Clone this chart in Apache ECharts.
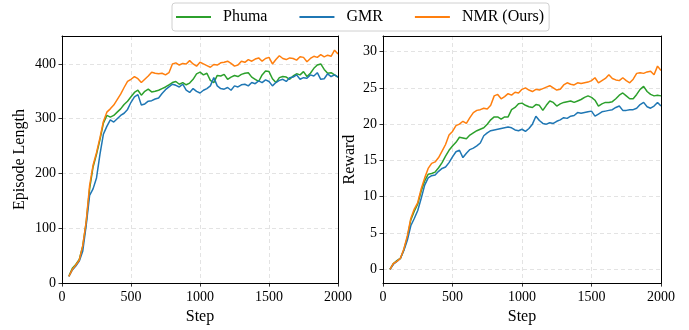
<!DOCTYPE html>
<html>
<head>
<meta charset="utf-8">
<script src="https://cdn.jsdelivr.net/npm/echarts@6/dist/echarts.min.js"></script>
<style>
html,body{margin:0;padding:0;background:#fff;}
#chart{width:689px;height:330px;}
</style>
</head>
<body>
<div id="chart"></div>
<script>
// ---- data ----
const steps = [50,75,100,125,150,175,200,225,250,275,300,325,350,375,400,425,450,475,500,525,550,575,600,625,650,675,700,725,750,775,800,825,850,875,900,925,950,975,1000,1025,1050,1075,1100,1125,1150,1175,1200,1225,1250,1275,1300,1325,1350,1375,1400,1425,1450,1475,1500,1525,1550,1575,1600,1625,1650,1675,1700,1725,1750,1775,1800,1825,1850,1875,1900,1925,1950,1975,2000];

const seriesNames = ['Phuma', 'GMR', 'NMR (Ours)'];

// Episode Length
const lenPhuma = [13,27,34,43,67,110,172,212,235,262,292,306,303,306,312,318,326,332,340,348,352,343,350,354,349,350,352,355,358,362,366,368,363,366,362,365,372,382,385,380,383,370,366,379,378,381,372,376,379,377,381,383,384,376,372,368,380,387,386,373,366,375,377,376,372,378,382,380,386,377,383,392,398,400,390,383,384,380,376];
const lenGMR = [12,24,31,40,58,105,160,172,192,235,272,286,298,294,300,306,310,317,330,340,344,325,327,332,333,336,338,346,353,358,363,361,358,363,352,348,355,350,347,352,355,360,375,360,355,354,357,352,360,358,362,363,360,366,364,369,366,371,368,360,366,370,372,368,375,376,380,372,375,374,380,378,384,372,373,382,377,380,376];
const lenNMR = [12,25,33,42,68,112,178,215,238,265,295,312,318,325,335,345,357,368,372,377,373,366,372,378,385,383,382,383,380,384,400,402,398,401,400,406,400,396,403,400,397,394,399,398,402,403,405,401,396,398,405,403,408,405,409,411,405,410,412,400,408,415,410,408,411,410,407,413,412,404,410,414,412,417,413,416,414,425,418];

// Reward
const rewPhuma = [0.0,0.8,1.2,1.5,2.7,4.4,6.8,8.0,9.0,10.8,12.2,13.1,13.2,13.4,14.0,14.7,15.6,16.4,17.0,17.5,18.2,18.1,18.0,18.5,18.8,19.1,19.3,19.5,20.0,20.6,21.0,21.0,20.7,21.0,21.0,22.0,22.3,22.8,22.9,22.6,22.4,22.3,22.7,22.6,21.9,22.6,23.2,23.0,22.5,22.8,23.0,23.1,23.2,23.0,23.2,23.4,23.7,23.9,23.7,23.3,22.5,22.8,23.0,23.0,23.1,23.5,24.0,24.3,23.9,23.5,23.5,24.1,24.8,25.2,24.5,24.1,23.9,24.0,23.9];
const rewGMR = [0.0,0.7,1.1,1.5,2.6,4.0,6.0,7.0,8.1,9.8,11.6,12.6,12.9,13.0,13.5,13.9,14.1,14.7,15.5,16.2,16.4,15.4,16.0,16.5,16.7,17.0,17.4,18.4,18.8,19.1,19.2,19.3,19.4,19.5,19.6,19.5,19.2,19.1,19.3,19.0,19.4,20.0,21.1,20.5,20.1,20.0,20.2,20.1,20.4,20.6,20.9,20.8,21.1,21.2,21.6,21.5,21.6,21.7,21.8,21.1,21.4,21.7,21.8,21.9,22.0,22.3,22.5,21.9,21.9,22.0,22.0,22.2,22.7,23.0,22.4,22.2,22.5,23.0,22.5];
const rewNMR = [0.0,0.8,1.1,1.5,2.8,4.6,7.0,8.3,9.2,11.1,12.6,13.9,14.6,14.8,15.4,16.3,17.2,18.5,19.0,19.8,20.0,20.4,20.1,20.9,21.6,21.9,22.0,22.2,22.1,22.6,23.9,24.1,23.5,23.8,24.2,24.0,24.4,24.3,24.8,25.0,24.7,24.5,24.8,24.7,24.9,25.1,25.3,25.0,24.7,24.8,25.4,25.7,25.5,25.4,25.7,25.6,25.7,25.8,26.0,26.4,25.7,26.0,26.3,26.8,26.3,26.1,26.0,26.4,26.0,25.7,26.2,27.0,27.1,27.0,27.2,27.3,26.8,28.0,27.4];

const xTicks = [0, 500, 1000, 1500, 2000];
const lenTicks = [0, 100, 200, 300, 400];
const rewTicks = [0, 5, 10, 15, 20, 25, 30];

// ---- chart ----
const colors = ['#2ca02c', '#1f77b4', '#ff7f0e'];
const FONT = 'Liberation Serif';
const pair = (ys) => steps.map((s, i) => [s, ys[i]]);
const fmt = (v) => String(v);

function xAxisCfg(gridIndex) {
  return {
    type: 'value', gridIndex, min: 0, max: 2000, position: 'bottom',
    name: 'Step', nameLocation: 'middle', nameGap: 24,
    nameTextStyle: {fontFamily: FONT, fontSize: 16, color: '#000'},
    axisLine: {show: true, onZero: false, lineStyle: {color: '#000', width: 1}},
    axisTick: {show: true, inside: false, length: 3.5, lineStyle: {color: '#000', width: 0.8}, customValues: xTicks},
    axisLabel: {fontFamily: FONT, fontSize: 14, color: '#000', margin: 7, customValues: xTicks, formatter: fmt},
    splitLine: {show: true, lineStyle: {color: '#dcdcdc', width: 0.8, type: [4, 3]}}
  };
}
function xFrame(gridIndex) {
  return {
    type: 'value', gridIndex, min: 0, max: 2000, position: 'top', z: 5,
    axisLine: {show: true, onZero: false, lineStyle: {color: '#000', width: 1}},
    axisTick: {show: false}, axisLabel: {show: false}, splitLine: {show: false}
  };
}
function yAxisCfg(gridIndex, name, min, max, ticks, gap) {
  return {
    type: 'value', gridIndex, min, max, position: 'left',
    name, nameLocation: 'middle', nameGap: gap,
    nameTextStyle: {fontFamily: FONT, fontSize: 16, color: '#000'},
    axisLine: {show: true, onZero: false, lineStyle: {color: '#000', width: 1}},
    axisTick: {show: true, inside: false, length: 3.5, lineStyle: {color: '#000', width: 0.8}, customValues: ticks},
    axisLabel: {fontFamily: FONT, fontSize: 14, color: '#000', margin: 6, customValues: ticks, formatter: fmt},
    splitLine: {show: true, lineStyle: {color: '#dcdcdc', width: 0.8, type: [4, 3]}}
  };
}
function yFrame(gridIndex, min, max) {
  return {
    type: 'value', gridIndex, min, max, position: 'right', z: 5,
    axisLine: {show: true, onZero: false, lineStyle: {color: '#000', width: 1}},
    axisTick: {show: false}, axisLabel: {show: false}, splitLine: {show: false}
  };
}

const series = [];
const lenData = [lenPhuma, lenGMR, lenNMR];
const rewData = [rewPhuma, rewGMR, rewNMR];
seriesNames.forEach((n, i) => {
  series.push({name: n, type: 'line', xAxisIndex: 0, yAxisIndex: 0, data: pair(lenData[i]),
    symbol: 'none', showSymbol: false, animation: false, z: 2 + i,
    lineStyle: {color: colors[i], width: 1.5}, itemStyle: {color: colors[i]}});
  series.push({name: n, type: 'line', xAxisIndex: 1, yAxisIndex: 1, data: pair(rewData[i]),
    symbol: 'none', showSymbol: false, animation: false, z: 2 + i,
    lineStyle: {color: colors[i], width: 1.5}, itemStyle: {color: colors[i]}});
});

const chart = echarts.init(document.getElementById('chart'), null, {renderer: 'canvas'});
chart.setOption({
  animation: false,
  backgroundColor: '#fff',
  color: colors,
  legend: {
    data: seriesNames,
    left: 172, top: 3,
    icon: 'rect', itemWidth: 35, itemHeight: 2, itemGap: 32,
    padding: [5, 5, 5, 4],
    borderColor: '#d0d0d0', borderWidth: 1, borderRadius: 3,
    textStyle: {fontFamily: FONT, fontSize: 16, color: '#000', lineHeight: 18, padding: [0, 0, 0, 7]}
  },
  grid: [
    {left: 62, top: 36, width: 276, height: 251, containLabel: false},
    {left: 383, top: 36, width: 278, height: 250, containLabel: false}
  ],
  xAxis: [xAxisCfg(0), xAxisCfg(1), xFrame(0), xFrame(1)],
  yAxis: [
    yAxisCfg(0, 'Episode Length', 0, 451, lenTicks, 34),
    yAxisCfg(1, 'Reward', -1.9, 32.15, rewTicks, 25),
    yFrame(0, 0, 451),
    yFrame(1, -1.9, 32.15)
  ],
  series
});
</script>
</body>
</html>
